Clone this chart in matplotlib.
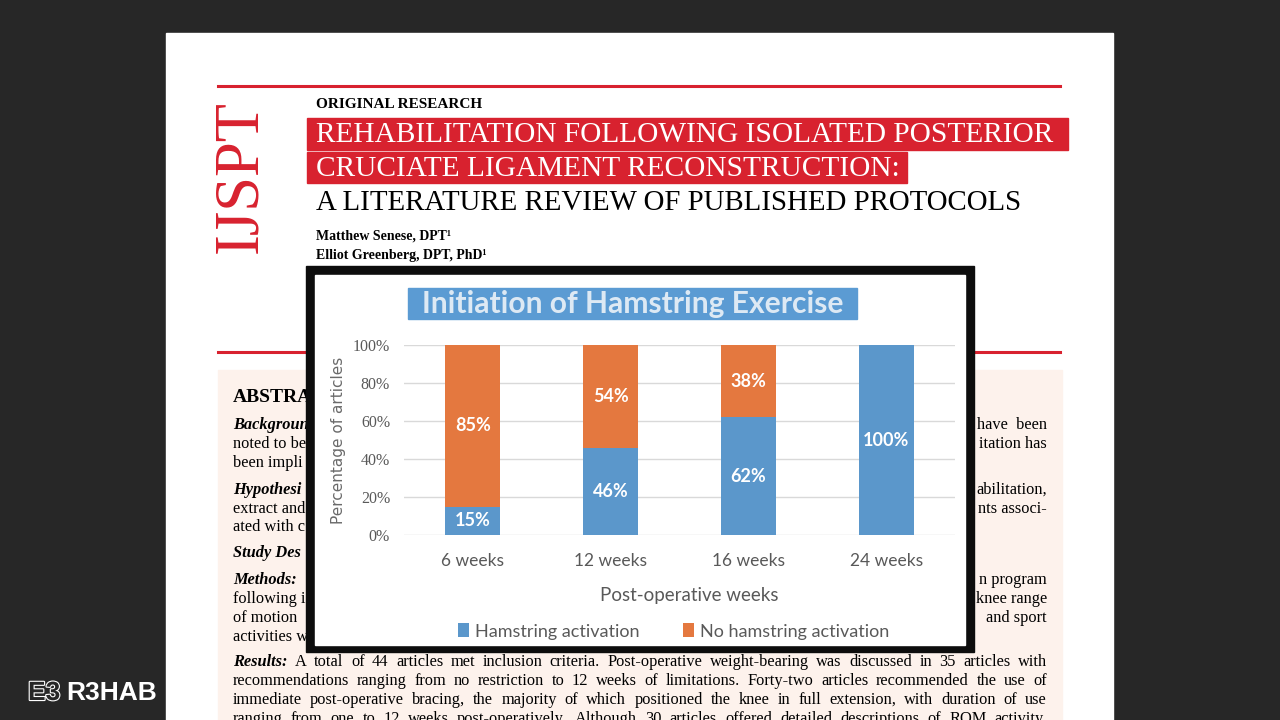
import matplotlib.pyplot as plt
import matplotlib.patheffects as pe
from matplotlib.patches import Rectangle

# data
weeks = ["6 weeks", "12 weeks", "16 weeks", "24 weeks"]
hamstring = [15, 46, 62, 100]
no_hamstring = [85, 54, 38, 0]
series_names = ["Hamstring activation", "No hamstring activation"]
yticks = [0, 20, 40, 60, 80, 100]

BLUE = "#5b97cb"
ORANGE = "#e4783f"
RED = "#d8222f"
GREY = "#595959"
SERIF = "Liberation Serif"
SANS = "Lato"
BODY = 11.8

fig = plt.figure(figsize=(12.8, 7.2), dpi=100)
fig.patch.set_facecolor("#272727")
renderer = fig.canvas.get_renderer()

# fond : page d'article en pixels
bg = fig.add_axes([0, 0, 1, 1])
bg.set_xlim(0, 1280)
bg.set_ylim(720, 0)
bg.axis("off")


def ligne_justifiee(y, mots, x0, x1, premiers_gras=0):
    """Place les mots d'une ligne pour qu'elle remplisse x0..x1."""
    textes = []
    for i, m in enumerate(mots):
        gras = i < premiers_gras
        t = bg.text(0, y, m, family=SERIF, fontsize=BODY, va="center", zorder=2,
                    style="italic" if gras else "normal",
                    weight="bold" if gras else "normal")
        textes.append(t)
    largeurs = [t.get_window_extent(renderer).width for t in textes]
    ecart = (x1 - x0 - sum(largeurs)) / (len(mots) - 1)
    x = x0
    for t, w in zip(textes, largeurs):
        t.set_x(x)
        x += w + ecart


bg.add_patch(Rectangle((166, 33), 947, 700, color="white", zorder=1))
bg.plot([218, 1060], [86, 86], color=RED, lw=2.2, zorder=2)
bg.plot([218, 1060], [352, 352], color=RED, lw=2.2, zorder=2)
bg.text(241, 177, "IJSPT", rotation=90, color=RED, family=SERIF, fontsize=45,
        ha="center", va="center", zorder=2)
bg.text(316, 105, "ORIGINAL RESEARCH", family=SERIF, weight="bold", fontsize=11,
        va="center", zorder=2)

bg.add_patch(Rectangle((307, 118), 761, 32, color=RED, zorder=2))
bg.add_patch(Rectangle((307, 152), 600, 31, color=RED, zorder=2))
bg.text(316, 135, "REHABILITATION FOLLOWING ISOLATED POSTERIOR", family=SERIF,
        fontsize=21.2, color="white", va="center", zorder=3)
bg.text(316, 169, "CRUCIATE LIGAMENT RECONSTRUCTION:", family=SERIF,
        fontsize=21.2, color="white", va="center", zorder=3)
bg.text(316, 203, "A LITERATURE REVIEW OF PUBLISHED PROTOCOLS", family=SERIF,
        fontsize=20.8, color="black", va="center", zorder=3)
bg.text(316, 236, "Matthew Senese, DPT¹", family=SERIF, weight="bold",
        fontsize=10, va="center", zorder=2)
bg.text(316, 255, "Elliot Greenberg, DPT, PhD¹", family=SERIF, weight="bold",
        fontsize=10, va="center", zorder=2)

# encadré du résumé
bg.add_patch(Rectangle((218, 370), 844, 360, color="#fdf2ec", zorder=1))
bg.text(233, 397, "ABSTRA", family=SERIF, weight="bold", fontsize=14,
        va="center", zorder=2)

gauche = [
    (425, "Backgroun", True),
    (444, "noted to be", False),
    (463, "been impli", False),
    (490, "Hypothesi", True),
    (509, "extract and", False),
    (527, "ated with c", False),
    (553, "Study Des", True),
    (580, "Methods:", True),
    (599, "following i", False),
    (618, "of motion", False),
    (637, "activities w", False),
]
for y, txt, gras in gauche:
    bg.text(233, y, txt, family=SERIF, fontsize=BODY, va="center", zorder=2,
            style="italic" if gras else "normal", weight="bold" if gras else "normal")

droite = [
    (425, "have  been"),
    (444, "itation has"),
    (490, "abilitation,"),
    (509, "nts associ-"),
    (580, "n program"),
    (599, "knee range"),
    (618, "and sport"),
]
for y, txt in droite:
    bg.text(1047, y, txt, family=SERIF, fontsize=BODY, va="center", ha="right", zorder=2)

bas = [
    (662, "Results: A total of 44 articles met inclusion criteria. Post-operative weight-bearing was discussed in 35 articles with", 1),
    (681, "recommendations ranging from no restriction to 12 weeks of limitations. Forty-two articles recommended the use of", 0),
    (700, "immediate post-operative bracing, the majority of which positioned the knee in full extension, with duration of use", 0),
    (719, "ranging from one to 12 weeks post-operatively. Although 30 articles offered detailed descriptions of ROM activity,", 0),
]
for y, txt, ng in bas:
    ligne_justifiee(y, txt.split(), 233, 1047, ng)

# logo
bg.text(28, 693, "E3", family="Liberation Sans", weight="bold", fontsize=19, color="#272727",
        va="center", zorder=2,
        path_effects=[pe.withStroke(linewidth=1.6, foreground="white")])
bg.text(66, 693, "R3HAB", family="Liberation Sans", weight="bold", fontsize=19,
        color="white", va="center", zorder=2)

# cadre du graphique
bg.add_patch(Rectangle((306, 266), 668, 386, color="#0d0d0d", zorder=5))
bg.add_patch(Rectangle((315, 275), 650, 370, color="white", zorder=6))
bg.add_patch(Rectangle((408, 288), 449, 31, color="#5b9bd3", zorder=7))
bg.text(633, 303.5, "Initiation of Hamstring Exercise", family=SANS, fontsize=21.6,
        weight="bold", color="#dde9f4", ha="center", va="center", zorder=8)

# graphique en barres empilées
ax = fig.add_axes([404 / 1280, 1 - 535 / 720, 551 / 1280, 190 / 720])
ax.set_zorder(10)
ax.patch.set_alpha(0)
x = range(len(weeks))
b1 = ax.bar(x, hamstring, width=0.4, color=BLUE, label=series_names[0], zorder=3)
b2 = ax.bar(x, no_hamstring, width=0.4, bottom=hamstring, color=ORANGE,
            label=series_names[1], zorder=3)
for bars in (b1, b2):
    labels = [f"{int(v)}%" if v > 0 else "" for v in bars.datavalues]
    ax.bar_label(bars, labels=labels, label_type="center", color="white",
                 weight="bold", fontsize=13, family=SANS)

ax.set_xlim(-0.5, len(weeks) - 0.5)
ax.set_ylim(0, 100)
ax.set_yticks(yticks)
ax.set_yticklabels([f"{t}%" for t in yticks])
ax.set_xticks(list(x))
ax.set_xticklabels(weeks)
ax.yaxis.grid(True, color="#d9d9d9", lw=1, zorder=0)
ax.tick_params(length=0)
ax.tick_params(axis="y", labelsize=11.5, labelcolor=GREY, pad=10)
ax.tick_params(axis="x", labelsize=12.5, labelcolor=GREY, pad=13)
for lab in ax.get_xticklabels():
    lab.set_family(SANS)
for lab in ax.get_yticklabels():
    lab.set_family(SERIF)
for s in ax.spines.values():
    s.set_visible(False)
ax.set_ylabel("Percentage of articles", family="DejaVu Sans", fontsize=11,
              color="#6a6a6a", labelpad=5)
ax.set_xlabel("Post-operative weeks", family=SANS, fontsize=13.5, color=GREY)
ax.xaxis.set_label_coords(0.517, -0.275)
ax.legend(loc="upper center", bbox_to_anchor=(0.49, -0.38), ncol=2, frameon=False,
          prop={"family": SANS, "size": 13}, labelcolor=GREY, handlelength=0.6,
          handleheight=0.8, handletextpad=0.35, columnspacing=2.4)

fig.savefig("out.png", dpi=100, facecolor=fig.get_facecolor())
